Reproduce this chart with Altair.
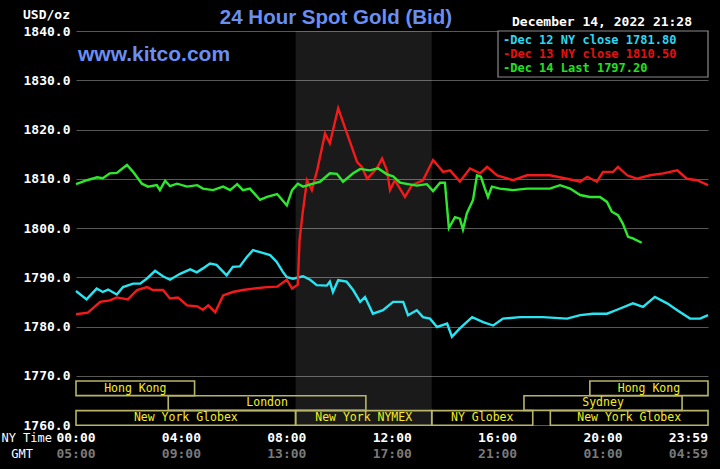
import altair as alt
import pandas as pd

# ---------------- data ----------------
series_names = ["Dec 12 NY close", "Dec 13 NY close", "Dec 14 Last"]
series_colors = ["#2ae4f2", "#f41a1a", "#2ee82e"]
legend_texts = ["-Dec 12 NY close 1781.80", "-Dec 13 NY close 1810.50", "-Dec 14 Last 1797.20"]

cyan_t = ["00:00", "00:24", "00:47", "01:01", "01:13", "01:33", "01:47", "02:10", "02:26", "02:41",
          "03:00", "03:18", "03:34", "03:57", "04:20", "04:35", "04:49", "05:05", "05:20", "05:43",
          "05:57", "06:13", "06:29", "06:43", "06:59", "07:22", "07:37", "07:51", "08:00", "08:14",
          "08:37", "08:53", "09:08", "09:31", "09:38", "09:45", "09:57", "10:16", "10:31", "10:47",
          "10:58", "11:16", "11:39", "12:02", "12:25", "12:36", "12:56", "13:10", "13:26", "13:42",
          "14:05", "14:16", "14:34", "15:02", "15:27", "15:50", "16:12", "16:51", "17:43", "18:38",
          "19:08", "19:37", "20:09", "20:32", "21:08", "21:31", "21:58", "22:26", "22:49", "23:18",
          "23:41", "23:59"]
cyan_v = [1787.2, 1785.5, 1787.7, 1787.0, 1787.5, 1786.5, 1788.0, 1788.7, 1788.7, 1789.7,
          1791.3, 1790.2, 1789.5, 1790.7, 1791.6, 1791.0, 1791.8, 1792.8, 1792.5, 1790.4,
          1792.1, 1792.2, 1794.1, 1795.5, 1795.1, 1794.5, 1793.1, 1791.1, 1790.0, 1789.7,
          1790.2, 1789.5, 1788.4, 1788.3, 1789.1, 1787.0, 1789.4, 1789.1, 1787.4, 1785.0,
          1786.0, 1782.6, 1783.3, 1785.0, 1785.0, 1782.3, 1783.3, 1781.9, 1781.6, 1779.9,
          1780.6, 1777.9, 1779.6, 1781.9, 1780.9, 1780.2, 1781.6, 1781.9, 1781.9, 1781.6,
          1782.3, 1782.6, 1782.6, 1783.4, 1784.7, 1784.0, 1786.0, 1784.7, 1783.3, 1781.6,
          1781.6, 1782.3]

red_t = ["00:00", "00:27", "00:55", "01:17", "01:33", "01:58", "02:19", "02:42", "02:55", "03:18",
         "03:34", "03:52", "04:13", "04:36", "04:49", "05:01", "05:17", "05:35", "05:57", "06:20",
         "06:43", "07:15", "07:38", "08:00", "08:12", "08:25", "08:29", "08:36", "08:46", "08:57",
         "09:09", "09:27", "09:38", "09:57", "10:17", "10:40", "10:51", "11:03", "11:25", "11:37",
         "11:48", "11:55", "12:06", "12:29", "12:45", "13:10", "13:33", "13:56", "14:12", "14:34",
         "14:57", "15:20", "15:36", "15:59", "16:35", "17:07", "17:59", "18:38", "19:08", "19:24",
         "19:46", "20:00", "20:23", "20:34", "20:55", "21:17", "21:47", "22:17", "22:49", "23:11",
         "23:34", "23:59"]
red_v = [1782.5, 1782.8, 1785.0, 1785.3, 1785.9, 1785.5, 1787.4, 1788.0, 1787.4, 1787.4,
         1785.7, 1785.9, 1784.3, 1784.1, 1783.4, 1784.3, 1782.9, 1786.3, 1787.0, 1787.4,
         1787.7, 1788.0, 1788.1, 1789.5, 1787.7, 1788.5, 1797.5, 1803.0, 1809.7, 1807.7,
         1811.7, 1819.2, 1817.2, 1824.3, 1819.2, 1813.4, 1812.4, 1810.0, 1812.1, 1814.1,
         1811.7, 1807.7, 1809.7, 1806.3, 1808.7, 1809.7, 1813.8, 1811.4, 1811.7, 1809.4,
         1812.1, 1811.1, 1812.4, 1810.7, 1809.7, 1810.7, 1810.7, 1810.0, 1809.4, 1810.4,
         1809.4, 1811.4, 1811.4, 1812.4, 1810.7, 1810.0, 1810.7, 1811.1, 1811.7, 1810.0,
         1809.7, 1808.7]

green_t = ["00:00", "00:25", "00:48", "01:01", "01:17", "01:33", "01:56", "02:10", "02:30", "02:44",
           "03:04", "03:11", "03:23", "03:34", "03:50", "04:13", "04:36", "04:49", "05:12", "05:35",
           "05:51", "06:07", "06:20", "06:36", "06:59", "07:15", "07:38", "08:00", "08:12", "08:25",
           "08:37", "09:00", "09:16", "09:38", "09:54", "10:08", "10:31", "10:47", "11:09", "11:28",
           "11:48", "12:02", "12:18", "12:36", "12:56", "13:19", "13:33", "13:49", "14:00", "14:09",
           "14:23", "14:34", "14:41", "14:50", "15:04", "15:13", "15:22", "15:31", "15:38", "15:47",
           "16:05", "16:35", "17:07", "17:59", "18:22", "18:45", "19:08", "19:30", "19:53", "20:09",
           "20:20", "20:34", "20:45", "20:57", "21:08", "21:28"]
green_v = [1808.9, 1809.7, 1810.3, 1810.1, 1811.1, 1811.2, 1812.8, 1811.4, 1809.0, 1808.4,
           1808.7, 1807.7, 1809.6, 1808.5, 1809.0, 1808.4, 1808.7, 1808.0, 1807.7, 1808.4,
           1807.7, 1808.9, 1807.7, 1808.0, 1805.7, 1806.3, 1806.9, 1804.6, 1807.7, 1809.0,
           1808.4, 1809.0, 1809.4, 1811.1, 1811.0, 1809.4, 1811.1, 1812.0, 1811.7, 1812.1,
           1810.9, 1810.5, 1809.2, 1808.9, 1808.6, 1808.9, 1807.5, 1809.2, 1809.2, 1800.0,
           1802.2, 1801.9, 1799.7, 1803.0, 1805.7, 1810.7, 1810.4, 1808.0, 1806.3, 1808.4,
           1808.0, 1807.7, 1808.0, 1808.0, 1808.7, 1808.0, 1806.7, 1806.3, 1806.3, 1805.3,
           1803.3, 1802.6, 1800.9, 1798.2, 1797.9, 1797.0]

y_ticks = [1760, 1770, 1780, 1790, 1800, 1810, 1820, 1830, 1840]
grid_times = ["00:00", "02:00", "04:00", "06:00", "08:00", "10:00", "12:00",
              "14:00", "16:00", "18:00", "20:00", "22:00", "23:59"]
ny_labels = ["00:00", "04:00", "08:00", "12:00", "16:00", "20:00", "23:59"]
gmt_labels = ["05:00", "09:00", "13:00", "17:00", "21:00", "01:00", "04:59"]

shade_start, shade_end = "08:20", "13:30"

session_names = ["Hong Kong", "London", "New York Globex", "New York NYMEX", "NY Globex",
                 "New York Globex", "Sydney", "Hong Kong"]
session_start = ["00:00", "03:30", "00:00", "08:20", "13:30", "18:00", "17:00", "19:30"]
session_end = ["04:30", "11:00", "08:20", "13:30", "17:20", "23:59", "23:00", "23:59"]
session_row = [0, 1, 2, 2, 2, 2, 1, 0]


def tm(s):
    h, m = s.split(":")
    return int(h) * 60 + int(m)


rows = []
for name, ts, vs in zip(series_names, [cyan_t, red_t, green_t], [cyan_v, red_v, green_v]):
    for t, v in zip(ts, vs):
        rows.append({"series": name, "minute": tm(t), "price": v})
df = pd.DataFrame(rows)

sess = pd.DataFrame({"name": session_names,
                     "start": [tm(s) for s in session_start],
                     "end": [tm(s) for s in session_end],
                     "row": session_row})
labels_df = pd.DataFrame({"minute": [tm(s) for s in ny_labels], "ny": ny_labels, "gmt": gmt_labels})
shade_df = pd.DataFrame({"start": [tm(shade_start)], "end": [tm(shade_end)]})
one = pd.DataFrame({"a": [0]})

# ---------------- styling ----------------
W, H = 632, 394
MONO = "DejaVu Sans Mono"
SANS = "Liberation Sans"
GRID = "#585858"
BOX = "#b8b46a"
BOXTXT = "#f4ee20"
BLUE = "#6a8ef2"

xscale = alt.Scale(domain=[0, 1439], nice=False, zero=False)
yscale = alt.Scale(domain=[1760, 1840], nice=False, zero=False)

shade = alt.Chart(shade_df).mark_rect(color="white", opacity=0.1).encode(
    x=alt.X("start:Q", scale=xscale,
            axis=alt.Axis(values=[tm(t) for t in grid_times], labels=False, ticks=False,
                          domain=False, grid=True, gridColor=GRID, gridWidth=1.2, title=None)),
    x2="end:Q",
    y=alt.value(0), y2=alt.value(H),
)

lines = alt.Chart(df).mark_line(strokeWidth=2.4, interpolate="linear").encode(
    x=alt.X("minute:Q", scale=xscale, axis=None),
    y=alt.Y("price:Q", scale=yscale,
            axis=alt.Axis(values=y_ticks, format=".1f", labelFont=MONO, labelFontWeight="bold",
                          labelFontSize=13, labelColor="white", ticks=False, domain=False,
                          grid=True, gridColor=GRID, gridWidth=1.2, labelPadding=6, title=None)),
    color=alt.Color("series:N", scale=alt.Scale(domain=series_names, range=series_colors), legend=None),
    detail="series:N",
    order="minute:Q",
)

sess_boxes = alt.Chart(sess).transform_calculate(
    top="350 + datum.row * 14.8", bot="350 + datum.row * 14.8 + 14.6"
).mark_rect(fillOpacity=0, stroke=BOX, strokeWidth=1.6).encode(
    x=alt.X("start:Q", scale=xscale, axis=None), x2="end:Q",
    y=alt.Y("top:Q", scale=None), y2="bot:Q",
)

sess_text = alt.Chart(sess).transform_calculate(
    mid="(datum.start + datum.end) / 2", ty="357.5 + datum.row * 14.8"
).mark_text(font=MONO, fontSize=11.5, color=BOXTXT, baseline="middle", align="center").encode(
    x=alt.X("mid:Q", scale=xscale, axis=None),
    y=alt.Y("ty:Q", scale=None),
    text="name:N",
)

ny_mid = alt.Chart(labels_df).transform_filter("datum.minute < 1439").mark_text(
    font=MONO, fontSize=13, fontWeight="bold", color="white", baseline="middle", align="center"
).encode(x=alt.X("minute:Q", scale=xscale, axis=None), y=alt.value(407), text="ny:N")
ny_end = alt.Chart(labels_df).transform_filter("datum.minute >= 1439").mark_text(
    font=MONO, fontSize=13, fontWeight="bold", color="white", baseline="middle", align="right"
).encode(x=alt.X("minute:Q", scale=xscale, axis=None), y=alt.value(407), text="ny:N")
gmt_mid = alt.Chart(labels_df).transform_filter("datum.minute < 1439").mark_text(
    font=MONO, fontSize=13, fontWeight="bold", color="#7a7a7a", baseline="middle", align="center"
).encode(x=alt.X("minute:Q", scale=xscale, axis=None), y=alt.value(423), text="gmt:N")
gmt_end = alt.Chart(labels_df).transform_filter("datum.minute >= 1439").mark_text(
    font=MONO, fontSize=13, fontWeight="bold", color="#7a7a7a", baseline="middle", align="right"
).encode(x=alt.X("minute:Q", scale=xscale, axis=None), y=alt.value(423), text="gmt:N")


def note(txt, x, y, color="white", font=MONO, size=13, weight="bold", align="left"):
    return alt.Chart(one).mark_text(text=txt, font=font, fontSize=size, fontWeight=weight,
                                    color=color, align=align, baseline="middle").encode(
        x=alt.value(x), y=alt.value(y))


legend_box = alt.Chart(one).mark_rect(fill="black", stroke="#8a8a8a", strokeWidth=1.2).encode(
    x=alt.value(422), x2=alt.value(632), y=alt.value(0), y2=alt.value(46))

legend_layers = [note(t, 427, 8.5 + 14 * i, color=c, size=12) for i, (t, c) in
                 enumerate(zip(legend_texts, ["#2ad6f0", "#e21212", "#22e022"]))]

annotations = [
    note("24 Hour Spot Gold (Bid)", 260, -13, color=BLUE, font=SANS, size=20.5, weight="bold", align="center"),
    note("www.kitco.com", 2, 24, color=BLUE, font=SANS, size=21, weight="bold"),
    note("December 14, 2022 21:28", 436, -9),
    note("USD/oz", -6, -16, align="right"),
    note("NY Time", -24, 407, weight="normal", size=12, align="right"),
    note("GMT", -43, 423, weight="normal", size=12, align="right"),
]

chart = alt.layer(
    shade, lines, sess_boxes, sess_text, ny_mid, ny_end, gmt_mid, gmt_end,
    legend_box, *legend_layers, *annotations
).properties(
    width=W, height=H, background="black",
    padding={"left": 76, "top": 31, "right": 12, "bottom": 44},
    autosize=alt.AutoSizeParams(type="none"),
).configure_view(stroke=None)

chart.save("out.html", embed_options={"renderer": "svg", "actions": False})
